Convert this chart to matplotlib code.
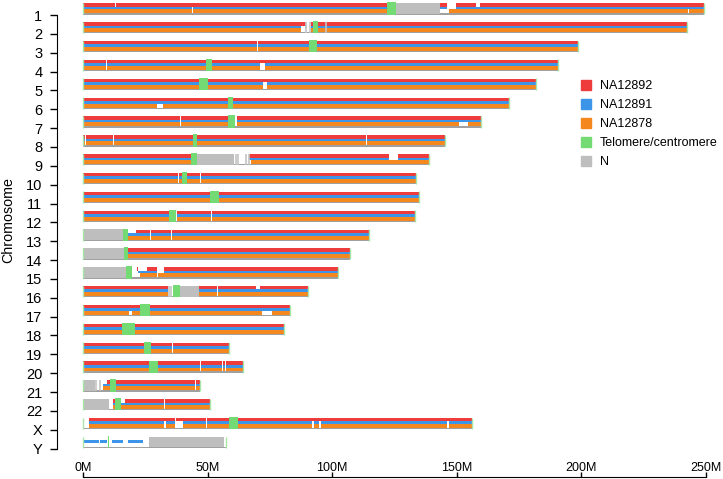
import matplotlib
matplotlib.use('Agg')
import matplotlib.pyplot as plt
from matplotlib.lines import Line2D

plt.rcParams['font.family'] = ['Liberation Sans', 'DejaVu Sans']

# chromosome layout (values in Mb)
chroms = ['1', '2', '3', '4', '5', '6', '7', '8', '9', '10', '11', '12',
          '13', '14', '15', '16', '17', '18', '19', '20', '21', '22', 'X', 'Y']
lengths = [249.2, 242.4, 198.6, 190.6, 181.8, 171.0, 159.6, 145.3, 138.8,
           133.6, 134.8, 133.2, 114.8, 107.1, 102.3, 90.3, 83.1, 80.6,
           58.6, 64.3, 47.0, 51.0, 156.0, 57.4]

centromeres = {
    '1': (122.0, 125.6), '2': (92.3, 94.3), '3': (90.7, 93.8), '4': (49.4, 51.8),
    '5': (46.5, 50.2), '6': (58.2, 60.2), '7': (58.2, 61.0), '8': (44.0, 45.7),
    '9': (43.3, 45.6), '10': (39.6, 41.8), '11': (51.0, 54.6), '12': (34.5, 37.3),
    '13': (16.0, 18.0), '14': (16.3, 18.2), '15': (17.3, 19.7), '16': (36.0, 39.0),
    '17': (23.0, 27.0), '18': (15.5, 20.9), '19': (24.5, 27.3), '20': (26.5, 30.0),
    '21': (10.8, 13.1), '22': (12.8, 15.1), 'X': (58.6, 62.2), 'Y': (10.2, 10.6),
}

n_blocks = {
    '1': [(125.6, 143.3)], '9': [(45.6, 60.6)], '13': [(0, 16.0)],
    '14': [(0, 16.3)], '15': [(0, 17.3)], '16': [(39.0, 46.5)],
    '21': [(0, 4.8)], '22': [(0, 10.5)], 'Y': [(26.6, 56.7)],
}

n_lines = {
    '2': [89.5, 91.1, 97.5], '9': [61.3, 62.1, 65.5, 66.5],
    '16': [34.5, 35.3], '21': [5.2, 6.8],
}

# gaps with no data in any sample
common_gaps = {
    '2': [(89.3, 91.5)], '3': [(69.8, 70.2)], '4': [(9.4, 9.8)],
    '7': [(38.8, 39.2), (61.0, 61.6)],
    '8': [(1.0, 1.4), (12.2, 12.6), (113.4, 113.8)],
    '9': [(60.6, 66.5)], '10': [(38.3, 38.7), (46.8, 47.2)],
    '12': [(37.5, 37.9), (51.2, 51.6)], '13': [(26.8, 27.2), (35.5, 35.9)],
    '16': [(34.0, 36.0), (53.8, 54.2)], '19': [(35.8, 36.2)],
    '20': [(47.0, 47.4), (55.8, 56.2), (56.9, 57.3)],
    '21': [(4.8, 7.9), (45.1, 45.5)], '22': [(10.5, 12.0), (32.4, 32.8)],
    'X': [(0, 2.4), (37.1, 37.5), (49.2, 49.6)],
}

samples = ['NA12892', 'NA12891', 'NA12878']
colors = ['#EE3B3B', '#3D95EA', '#F5871F']
green = '#74DB74'
grey = '#BEBEBE'

sample_gaps = {
    'NA12892': {
        '1': [(12.9, 13.3), (146.0, 149.7), (157.7, 159.5)],
        '9': [(122.8, 126.4)], '13': [(18.0, 21.3)],
        '15': [(19.7, 21.5), (22.0, 25.7), (29.7, 32.5)],
        '16': [(69.5, 71.0)], '21': [(7.9, 9.5)], '22': [(15.1, 17.0)],
        'Y': [(0, 57.4)],
    },
    'NA12891': {
        '1': [(43.9, 44.3), (146.0, 149.7)], '2': [(87.5, 89.0)],
        '4': [(71.0, 73.0)], '5': [(72.3, 74.0)], '9': [(122.8, 126.4)],
        '15': [(19.7, 22.0), (29.7, 32.5)],
        'X': [(32.7, 33.3), (37.3, 40.0), (92.0, 92.8), (94.8, 95.6), (146.0, 146.8)],
        'Y': [(6.4, 6.8), (9.6, 11.6), (16.1, 18.1), (24.1, 26.6), (56.7, 57.4)],
    },
    'NA12878': {
        '1': [(43.9, 44.3), (143.3, 147.0), (242.8, 243.2)], '2': [(87.5, 89.5)],
        '4': [(71.0, 73.0)], '5': [(72.3, 74.0)], '6': [(29.5, 32.0)],
        '7': [(151.0, 154.5)], '9': [(60.6, 67.5)],
        '15': [(19.7, 23.0), (29.7, 30.0)], '17': [(18.5, 19.5), (72.0, 76.0)],
        'X': [(32.7, 33.3), (37.3, 40.0), (92.0, 92.8), (94.8, 95.6), (146.0, 146.8)],
        'Y': [(0, 57.4)],
    },
}

track_top = [-0.62, -0.44, -0.30]
track_h = [0.18, 0.14, 0.21]


def subtract(start, end, gaps):
    segs = [(start, end)]
    for gs, ge in sorted(gaps):
        new = []
        for s, e in segs:
            if ge <= s or gs >= e:
                new.append((s, e))
            else:
                if gs > s:
                    new.append((s, gs))
                if ge < e:
                    new.append((ge, e))
        segs = new
    return [(s, e - s) for s, e in segs]


fig = plt.figure(figsize=(7.23, 4.79), dpi=100)
ax = fig.add_axes([83 / 723, 0.0537, 623 / 723, 0.9445])

for i, (ch, L) in enumerate(zip(chroms, lengths)):
    # backbone
    ax.broken_barh([(0, L)], (i - 0.09, 0.07), facecolors='#A0A0A0')
    blocked = [centromeres[ch]] + n_blocks.get(ch, []) + common_gaps.get(ch, [])
    for k, s in enumerate(samples):
        gaps = blocked + sample_gaps[s].get(ch, [])
        segs = subtract(0, L, gaps)
        ax.broken_barh(segs, (i + track_top[k], track_h[k]), facecolors=colors[k])
    for a, b in n_blocks.get(ch, []):
        ax.broken_barh([(a, b - a)], (i - 0.64, 0.58), facecolors=grey)
    for x in n_lines.get(ch, []):
        ax.vlines(x, i - 0.64, i - 0.06, color='#C4C4C4', lw=1.2)
    a, b = centromeres[ch]
    ax.broken_barh([(a, b - a)], (i - 0.67, 0.65), facecolors=green)
    ax.vlines([0, L], i - 0.64, i - 0.03, color='#A8E6A8', lw=1, clip_on=False)

ax.set_xlim(0, 250)
ax.set_ylim(23.25, -0.75)

ax.set_yticks(range(len(chroms)))
ax.set_yticklabels(chroms)
ax.set_xticks([0, 50, 100, 150, 200, 250])
ax.set_xticklabels(['0M', '50M', '100M', '150M', '200M', '250M'])
ax.tick_params(axis='y', direction='out', length=5, width=1, pad=5.5, labelsize=10.5)
ax.tick_params(axis='x', direction='in', length=3.6, width=1, pad=-11, labelsize=9)

for side in ['top', 'right']:
    ax.spines[side].set_visible(False)
ax.spines['left'].set_position(('outward', 18.7))
ax.spines['left'].set_bounds(0, 23)
ax.spines['bottom'].set_position(('outward', 17))
ax.spines['bottom'].set_bounds(0, 250)

ax.set_ylabel('Chromosome', fontsize=10.3)
ax.yaxis.set_label_coords(-0.109, 0.516)

legend_labels = samples + ['Telomere/centromere', 'N']
legend_colors = colors + [green, grey]
handles = [Line2D([], [], marker='s', ls='', color=c, markersize=7.5) for c in legend_colors]
fig.legend(handles, legend_labels, loc='upper left', bbox_to_anchor=(580 / 723, 1 - 80 / 479),
           frameon=False, fontsize=9, handlelength=1.0, handletextpad=0.6,
           labelspacing=0.56, borderpad=0, borderaxespad=0)

fig.savefig('out.png', dpi=100)
